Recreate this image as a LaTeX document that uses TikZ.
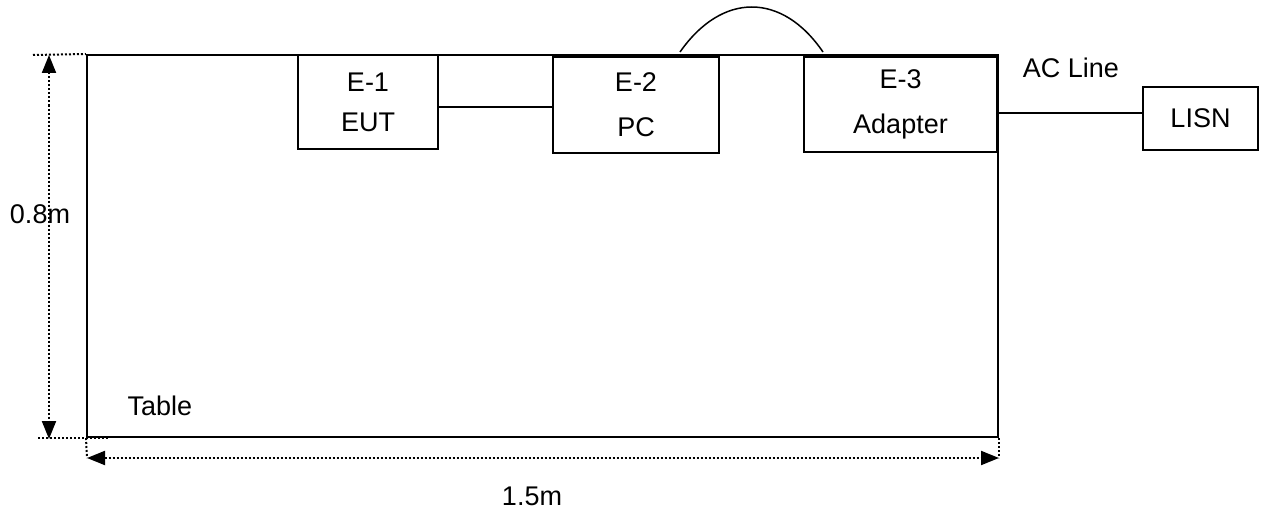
\documentclass[tikz,border=0pt]{standalone}
\usepackage{fontspec}
\setmainfont{Liberation Sans}
\usetikzlibrary{arrows.meta}
\begin{document}
\begin{tikzpicture}[x=1pt,y=-1pt,
  every node/.style={font=\fontsize{27}{40}\selectfont},
  box/.style={draw,line width=1.8pt,inner sep=0pt,align=center},
  dimline/.style={line width=2pt,dash pattern=on 2pt off 2pt},
  dimarrow/.style={dimline,{Triangle[length=18pt,width=14pt]}-{Triangle[length=18pt,width=14pt]}},
  wire/.style={line width=1.5pt}]
\useasboundingbox (0,0) rectangle (1267,511);
% table
\node[draw,line width=2pt,inner sep=0pt,minimum width=911pt,minimum height=382pt] (table) at (542.5,246) {};
\node[anchor=west] (tablelbl) at (124,406) {Table};
% equipment
\node[box,minimum width=140pt,minimum height=94pt] (e1) at (368,102) {E-1\\EUT};
\node[box,minimum width=166pt,minimum height=96pt] (e2) at (636,105) {E-2\\[5pt]PC};
\node[box,minimum width=193pt,minimum height=95pt] (e3) at (900.5,104.5) {E-3\\[5pt]Adapter};
\node[box,minimum width=115pt,minimum height=63pt] (lisn) at (1200.5,118.5) {LISN};
\node (acl) at (1071,68) {AC Line};
% connections
\coordinate (c12) at (438,107);
\draw[line width=2.5pt] (e1.east |- c12) -- (e2.west |- c12);
\coordinate (a1) at (680,52);
\coordinate (a2) at (823,52);
\draw[line width=1.5pt] (a1) .. controls (722,-8) and (782,-8) .. (a2);
\coordinate (c3l) at (997,113);
\draw[wire] (e3.east |- c3l) -- (lisn.west |- c3l);
% dimensions
\coordinate (vt) at (49,55);
\coordinate (vb) at (49,439);
\draw[dimline] (33,55) -- (table.north west);
\draw[dimline] (38,438) -- (108,438);
\draw[dimarrow] (vt) -- (vb);
\node (h08) at (40,214) {0.8m};
\coordinate (hl) at (87,458);
\coordinate (hr) at (999,458);
\draw[dimline] (table.south west) -- (hl);
\draw[dimline] (table.south east) -- (hr);
\draw[dimarrow] (hl) -- (hr);
\node (w15) at (532,496) {1.5m};
\end{tikzpicture}
\end{document}
